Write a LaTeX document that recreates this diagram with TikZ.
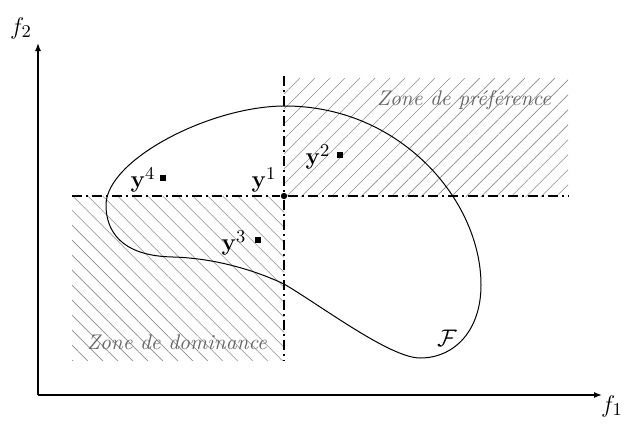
\documentclass[tikz,border=0pt]{standalone}
\usepackage{amsmath,amssymb}
\usetikzlibrary{arrows.meta, patterns.meta}
\tikzset{
  every node/.style={font=\fontsize{13}{15}\selectfont},
  axis/.style   = {-{Latex[length=4pt,width=3pt]}, line width=0.7pt},
  cut/.style    = {dash pattern=on 5pt off 2pt on 1pt off 2pt, line width=0.6pt},
  prefzone/.style = {pattern={Lines[angle=45,distance=5.3pt,line width=0.3pt]}, pattern color=black!45},
  domzone/.style  = {pattern={Lines[angle=-45,distance=5.3pt,line width=0.3pt]}, pattern color=black!45},
  zonetxt/.style  = {font=\fontsize{10.6}{12}\selectfont\itshape, text=black!60},
  sq/.style     = {rectangle, fill, minimum size=2.6pt, inner sep=0pt},
  ideal/.style  = {circle, fill, minimum size=3.2pt, inner sep=0pt},
}

\begin{document}
\begin{tikzpicture}[x=0.5pt, y=-0.5pt]
  \useasboundingbox (0,0) rectangle (626,423);

  % ---- hatched zones ----
  \fill[prefzone] (284,78)  rectangle (568,196);
  \fill[domzone]  (72,196)  rectangle (284,360);

  % ---- axes ----
  \coordinate (o)  at (38,395);
  \coordinate (xe) at (602,395);
  \coordinate (ye) at (38,43);
  \draw[axis] (o) -- (xe);
  \draw[axis] (o) -- (ye);
  \node (f1) at (612,406) {$f_1$};
  \node (f2) at (21,28)   {$f_2$};

  % ---- reference point and cut lines ----
  \node[ideal] (p1) at (284,196) {};
  \coordinate (vtop) at (284,76);
  \coordinate (vbot) at (284,360);
  \coordinate (hl)   at (72,196);
  \coordinate (hr)   at (568,196);
  \draw[cut] (vtop) -- (p1) -- (vbot);
  \draw[cut] (hl) -- (p1) -- (hr);

  % ---- feasible set ----
  \draw[line width=0.5pt] (106,205)
    .. controls (106,160) and (210,106) .. (285,106)
    .. controls (400,106) and (481,200) .. (481,285)
    .. controls (481,330) and (455,358) .. (420,358)
    .. controls (390,358) and (320,305) .. (284,284)
    .. controls (250,268) and (210,258) .. (173,257)
    .. controls (120,256) and (106,230) .. cycle;
  \node (fs) at (447,338) {$\mathcal{F}$};

  % ---- points ----
  \node[sq] (p2) at (340,155) {};
  \node[sq] (p3) at (258,240) {};
  \node[sq] (p4) at (163,178) {};
  \node (l1) at (264,180) {$\mathbf{y}^1$};
  \node (l2) at (318,157) {$\mathbf{y}^2$};
  \node (l3) at (234,243) {$\mathbf{y}^3$};
  \node (l4) at (143,180) {$\mathbf{y}^4$};

  % ---- zone names ----
  \node[zonetxt] (zp) at (464,100) {Zone de pr\'ef\'erence};
  \node[zonetxt] (zd) at (177,342) {Zone de dominance};
\end{tikzpicture}
\end{document}
